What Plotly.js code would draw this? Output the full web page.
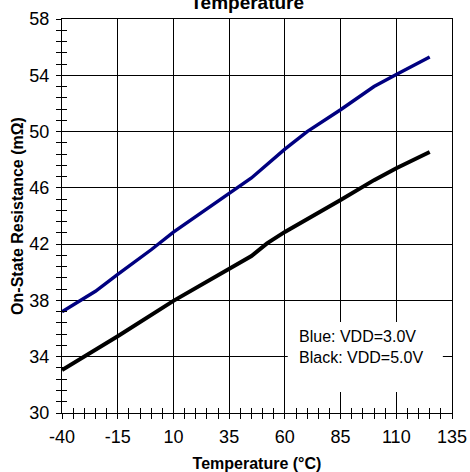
<!DOCTYPE html>
<html>
<head>
<meta charset="utf-8">
<script src="https://cdn.plot.ly/plotly-3.0.1.min.js"></script>
<style>html,body{margin:0;padding:0;background:#fff;}#chart{width:470px;height:472px;}</style>
</head>
<body>
<div id="chart"></div>
<script>
const chartTitle = "On-State Resistance vs.<br>Temperature";
const xTitle = "Temperature (°C)";
const yTitle = "On-State Resistance (mΩ)";
const legendText = "Blue: VDD=3.0V<br>Black: VDD=5.0V";

const tempBlue = [-40, -25, -15, 0, 10, 25, 35, 45, 60, 70, 85, 100, 110, 125];
const resBlue  = [37.2, 38.65, 39.85, 41.6, 42.85, 44.5, 45.65, 46.7, 48.75, 50.0, 51.55, 53.2, 54.05, 55.3];

const tempBlack = [-40, -15, 10, 25, 35, 45, 52, 60, 85, 100, 110, 125];
const resBlack  = [33.05, 35.45, 37.97, 39.35, 40.27, 41.15, 42.05, 42.87, 45.13, 46.55, 47.4, 48.55];

const xTickVals = [-40, -15, 10, 35, 60, 85, 110, 135];
const yTickVals = [30, 34, 38, 42, 46, 50, 54, 58];

const FONT = "Arial, 'Liberation Sans', sans-serif";

const traces = [
  {x: tempBlue, y: resBlue, mode: 'lines', line: {color: '#000080', width: 3.4}, hoverinfo: 'skip', showlegend: false},
  {x: tempBlack, y: resBlack, mode: 'lines', line: {color: '#000000', width: 4}, hoverinfo: 'skip', showlegend: false},
  {x: tempBlack, y: resBlack, xaxis: 'x2', yaxis: 'y2', mode: 'lines', line: {color: 'rgba(0,0,0,0)', width: 0}, hoverinfo: 'skip', showlegend: false}
];

const xBase = {
  range: [-40, 135], tickvals: xTickVals, ticktext: xTickVals.map(String),
  ticklen: 5, tickwidth: 1, tickcolor: '#000',
  minor: {dtick: 5, tick0: -40, ticklen: 5, tickwidth: 1, tickcolor: '#000', showgrid: false},
  zeroline: false, fixedrange: true
};
const yBase = {
  range: [30, 58], tickvals: yTickVals, ticktext: yTickVals.map(String),
  ticklen: 5, tickwidth: 1, tickcolor: '#000',
  minor: {dtick: 0.8, tick0: 30, ticklen: 5, tickwidth: 1, tickcolor: '#000', showgrid: false},
  zeroline: false, fixedrange: true
};

const layout = {
  width: 470, height: 472,
  margin: {l: 62, r: 18, t: 19, b: 59},
  paper_bgcolor: '#fff', plot_bgcolor: '#fff',
  font: {family: FONT, color: '#000', size: 18},
  xaxis: Object.assign({}, xBase, {
    ticks: 'outside', minor: Object.assign({}, xBase.minor, {ticks: 'outside'}),
    showgrid: true, gridcolor: '#000', gridwidth: 1,
    showline: true, linecolor: '#000', linewidth: 1, mirror: true,
    ticklabelstandoff: 2,
    tickfont: {family: FONT, size: 18, color: '#000'},
    title: {text: xTitle, font: {family: FONT, size: 16, weight: 'bold', color: '#000'}, standoff: 14}
  }),
  yaxis: Object.assign({}, yBase, {
    ticks: 'outside', minor: Object.assign({}, yBase.minor, {ticks: 'outside'}),
    showgrid: true, gridcolor: '#000', gridwidth: 1,
    showline: true, linecolor: '#000', linewidth: 1, mirror: true,
    ticklabelstandoff: 3,
    tickfont: {family: FONT, size: 18, color: '#000'},
    title: {text: yTitle, font: {family: FONT, size: 16, weight: 'bold', color: '#000'}, standoff: 1}
  }),
  xaxis2: Object.assign({}, xBase, {
    overlaying: 'x', anchor: 'y', side: 'bottom', ticks: 'inside',
    minor: Object.assign({}, xBase.minor, {ticks: 'inside'}),
    showticklabels: false, showgrid: false, showline: false
  }),
  yaxis2: Object.assign({}, yBase, {
    overlaying: 'y', anchor: 'x', side: 'left', ticks: 'inside',
    minor: Object.assign({}, yBase.minor, {ticks: 'inside'}),
    showticklabels: false, showgrid: false, showline: false
  }),
  shapes: [{
    type: 'rect', xref: 'x', yref: 'y', layer: 'between',
    x0: 61.3, x1: 130.9, y0: 31.5, y1: 36.47,
    fillcolor: '#fff', line: {width: 0}
  }],
  annotations: [{
    text: legendText, xref: 'x', yref: 'y', x: 65.4, y: 34.66,
    xanchor: 'left', yanchor: 'middle', align: 'left', showarrow: false,
    font: {family: FONT, size: 16, color: '#000'}
  }, {
    text: chartTitle, xref: 'paper', yref: 'paper',
    x: (247 - 62) / 390, y: 1 + 4 / 394, xanchor: 'center', yanchor: 'bottom',
    align: 'center', showarrow: false,
    font: {family: FONT, size: 19, weight: 'bold', color: '#000'}
  }]
};

Plotly.newPlot('chart', traces, layout, {displayModeBar: false, staticPlot: true});
</script>
</body>
</html>
